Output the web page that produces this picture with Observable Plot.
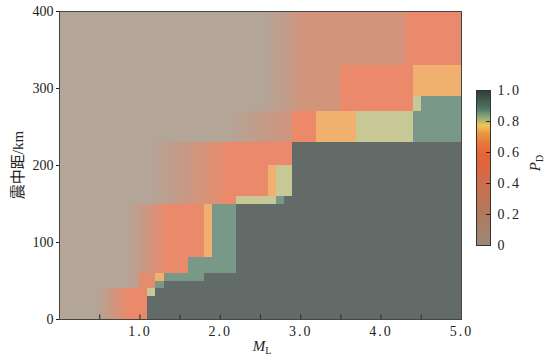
<!DOCTYPE html>
<html><head><meta charset="utf-8">
<script src="https://cdn.jsdelivr.net/npm/d3@7"></script>
<script src="https://cdn.jsdelivr.net/npm/@observablehq/plot@0.6"></script>
<style>
body{margin:0;background:#fff;}
#wrap{position:relative;width:550px;height:364px;font-family:"Liberation Serif","Noto Sans CJK SC",serif;color:#222;}
#wrap svg{position:absolute;overflow:visible;}
.lbl{position:absolute;white-space:nowrap;font-size:14px;transform:translate(-50%,-50%);}
.rot{transform:translate(-50%,-50%) rotate(-90deg);}
sub{font-size:10px;vertical-align:-3px;font-style:normal;}
</style></head><body><div id="wrap"></div>
<script>
// axis ticks
const magTicks = [1, 2, 3, 4, 5];
const minorTicks = [0.5, 1, 1.5, 2, 2.5, 3, 3.5, 4, 4.5];
const distTicks = [0, 100, 200, 300, 400];
const cbTicks = [0, 0.2, 0.4, 0.6, 0.8, 1];

// colour map stops for P_D
const pdStops  = [0, 0.2, 0.4, 0.58, 0.66, 0.72, 0.77, 0.8, 0.84, 0.88, 1.0];
const pdColors = ["#9b8878", "#b07a5e", "#cc6e4c", "#e66238", "#e87a3a", "#eb9640", "#f2c452", "#b6b673", "#7a9a7a", "#4e7660", "#303a37"];

// cells: [M_L from, M_L to, distance from (km), distance to (km), P_D]
const background = [[0, 5, 0, 400, 0]];
const lowBand = [
  [0.45, 0.55, 0, 40, 0.06], [0.55, 0.6, 0, 40, 0.14], [0.6, 0.65, 0, 40, 0.22], [0.65, 0.7, 0, 40, 0.3],
  [0.7, 0.75, 0, 40, 0.38], [0.75, 0.8, 0, 40, 0.45], [0.8, 0.85, 0, 40, 0.5], [0.85, 1.1, 0, 40, 0.56]
];
const midBand = [
  [0.85, 0.9, 40, 150, 0.05], [0.9, 0.95, 40, 150, 0.1], [0.95, 1.0, 40, 150, 0.15], [1.0, 1.05, 40, 150, 0.2],
  [1.05, 1.1, 40, 150, 0.26], [1.1, 1.15, 40, 150, 0.32], [1.15, 1.2, 40, 150, 0.38], [1.2, 1.25, 40, 150, 0.44],
  [1.25, 1.3, 40, 150, 0.5], [1.3, 1.8, 40, 150, 0.57], [1.0, 1.2, 40, 60, 0.5]
];
const highBand = [
  [1.15, 1.25, 150, 230, 0.05], [1.25, 1.35, 150, 230, 0.1], [1.35, 1.45, 150, 230, 0.15], [1.45, 1.55, 150, 230, 0.2],
  [1.55, 1.65, 150, 230, 0.26], [1.65, 1.75, 150, 230, 0.32], [1.75, 1.85, 150, 230, 0.38], [1.85, 1.95, 150, 230, 0.45],
  [1.95, 2.05, 150, 230, 0.5], [2.05, 2.9, 150, 230, 0.56],
  [2.15, 2.25, 230, 270, 0.06], [2.25, 2.35, 230, 270, 0.1], [2.35, 2.45, 230, 270, 0.14], [2.45, 2.55, 230, 270, 0.18],
  [2.55, 2.65, 230, 270, 0.22], [2.65, 2.75, 230, 270, 0.26], [2.75, 2.9, 230, 270, 0.3],
  [2.55, 2.65, 270, 400, 0.05], [2.65, 2.75, 270, 400, 0.1], [2.75, 2.85, 270, 400, 0.15], [2.85, 2.95, 270, 400, 0.22], [2.95, 3.0, 270, 400, 0.28]
];
const upperRight = [
  [3.0, 4.3, 270, 400, 0.35], [4.3, 5.0, 330, 400, 0.55], [3.5, 4.4, 270, 330, 0.57],
  [2.9, 3.2, 230, 270, 0.58], [3.2, 3.7, 230, 270, 0.72], [3.7, 4.4, 230, 270, 0.8], [4.4, 5.0, 230, 270, 0.88],
  [4.4, 5.0, 290, 330, 0.72], [4.4, 4.5, 270, 290, 0.8], [4.5, 5.0, 270, 290, 0.88]
];
const staircase = [
  [1.1, 1.2, 30, 40, 0.8], [1.2, 1.3, 40, 50, 0.88], [1.2, 1.3, 50, 60, 0.72],
  [1.3, 1.6, 50, 60, 0.88], [1.6, 1.8, 50, 80, 0.88], [1.8, 1.9, 60, 80, 0.88], [1.8, 1.9, 80, 150, 0.72], [1.9, 2.2, 60, 150, 0.88],
  [2.2, 2.7, 150, 160, 0.8], [2.6, 2.7, 160, 200, 0.72], [2.7, 2.8, 150, 160, 0.88], [2.7, 2.9, 160, 200, 0.8],
  [1.1, 1.2, 0, 30, 1], [1.2, 1.3, 0, 40, 1], [1.3, 1.8, 0, 50, 1], [1.8, 2.2, 0, 60, 1], [2.2, 2.8, 0, 150, 1], [2.8, 2.9, 0, 160, 1], [2.9, 5.0, 0, 230, 1]
];

const cells = [...background, ...lowBand, ...midBand, ...highBand, ...upperRight, ...staircase]
  .map(([m0, m1, d0, d1, p]) => ({m0, m1, d0, d1, p}));

const color = {type: "linear", domain: pdStops, range: pdColors, interpolate: "rgb"};
const font = '"Liberation Serif","Noto Sans CJK SC",serif';
const fmt = d => d === 0 ? "0" : d.toFixed(1);

const main = Plot.plot({
  width: 550, height: 364,
  marginLeft: 59, marginRight: 89, marginTop: 11, marginBottom: 45,
  style: {fontFamily: font, fontSize: "14px", color: "#222", background: "transparent"},
  x: {domain: [0, 5], ticks: magTicks, tickFormat: d => d.toFixed(1), tickSize: 0, tickPadding: 7, label: null},
  y: {domain: [0, 400], ticks: distTicks, tickSize: 3, tickPadding: 3, label: null},
  color,
  marks: [
    Plot.rect(cells, {x1: "m0", x2: "m1", y1: "d0", y2: "d1", fill: "p", shapeRendering: "crispEdges"}),
    Plot.ruleX(minorTicks, {y1: 0, y2: 6, stroke: "#333", strokeWidth: 1.2}),
    Plot.frame({stroke: "#444"})
  ]
});
const heat = main.querySelector('g[aria-label="rect"]');
if (heat) heat.setAttribute("opacity", "0.75");
main.querySelectorAll('g[aria-label^="x-axis"] text').forEach(t => t.setAttribute("letter-spacing", "2"));
main.style.left = "0px"; main.style.top = "0px";

const cbSteps = d3.range(0, 1, 0.005);
const cbar = Plot.plot({
  width: 80, height: 175,
  marginTop: 10, marginBottom: 10, marginLeft: 4, marginRight: 62,
  style: {fontFamily: font, fontSize: "14px", color: "#222", background: "transparent"},
  x: {domain: [0, 1], axis: null},
  y: {domain: [0, 1], axis: "right", ticks: cbTicks, tickFormat: fmt, tickSize: 0, tickPadding: 7, label: null},
  color,
  marks: [
    Plot.rect(cbSteps, {x1: d => 0, x2: d => 1, y1: d => d, y2: d => d + 0.006, fill: d => d + 0.0025, shapeRendering: "crispEdges"}),
    Plot.ruleY([0.2, 0.4, 0.6, 0.8], {x1: 0.72, x2: 1, stroke: "#222"}),
    Plot.frame({stroke: "#333"})
  ]
});
cbar.querySelectorAll('g[aria-label^="y-axis"] text').forEach(t => t.setAttribute("letter-spacing", "2"));
cbar.style.left = "472px"; cbar.style.top = "80px";

const wrap = document.getElementById("wrap");
wrap.appendChild(main);
wrap.appendChild(cbar);

function label(html, x, y, rot, size) {
  const d = document.createElement("div");
  d.className = "lbl" + (rot ? " rot" : "");
  d.style.left = x + "px"; d.style.top = y + "px";
  d.style.fontSize = size + "px";
  d.innerHTML = html;
  wrap.appendChild(d);
}
label("<i>M</i><sub>L</sub>", 262, 347, false, 15);
label("震中距/km", 16, 165, true, 15);
label("<i>P</i><sub>D</sub>", 536, 163, true, 15);
</script></body></html>
